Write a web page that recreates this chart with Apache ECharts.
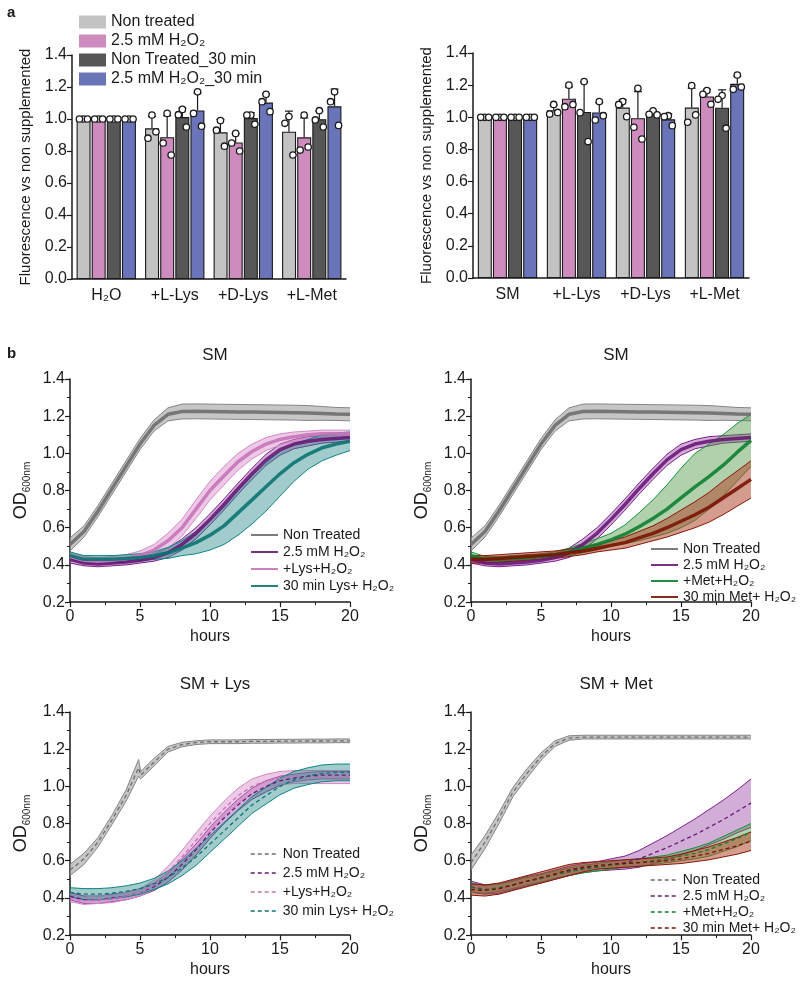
<!DOCTYPE html>
<html>
<head>
<meta charset="utf-8">
<script src="https://cdn.jsdelivr.net/npm/echarts@6/dist/echarts.min.js"></script>
<style>
  body { margin: 0; background: #fff; }
  .panel { position: absolute; }
</style>
</head>
<body>
<div id="barWater" class="panel" style="left:0;top:0;width:400px;height:320px"></div>
<div id="barSM" class="panel" style="left:400px;top:0;width:400px;height:320px"></div>
<div id="growthSmLys" class="panel" style="left:0;top:320px;width:400px;height:330px"></div>
<div id="growthSmMet" class="panel" style="left:400px;top:320px;width:400px;height:330px"></div>
<div id="growthLys" class="panel" style="left:0;top:650px;width:400px;height:333px"></div>
<div id="growthMet" class="panel" style="left:400px;top:650px;width:400px;height:333px"></div>
<script>
// ---------- panel a: fluorescence bars (three replicates per bar) ----------
const treatments = ['Non treated', '2.5 mM H₂O₂', 'Non Treated_30 min', '2.5 mM H₂O₂_30 min'];
const groupsWater = ['H₂O', '+L-Lys', '+D-Lys', '+L-Met'];
const groupsSM = ['SM', '+L-Lys', '+D-Lys', '+L-Met'];

const waterNonTreated = [[1, 1, 1], [1.025, 0.88, 0.92], [0.99, 0.93, 0.83], [1.015, 0.973, 0.775]];
const waterH2O2 = [[1, 1, 1], [1.035, 0.85, 0.775], [0.91, 0.85, 0.80], [1.025, 0.806, 0.825]];
const waterNonTreated30 = [[1, 1, 1], [1.06, 1.027, 0.95], [1.025, 1.025, 0.967], [1.052, 0.994, 0.95]];
const waterH2O2_30 = [[1, 1, 1], [1.17, 1.035, 0.955], [1.154, 1.108, 1.046], [1.17, 1.108, 0.96]];

const smNonTreated = [[1, 1, 1], [1.08, 1.02, 1.03], [1.098, 1.08, 1.004], [1.197, 0.969, 1.015]];
const smH2O2 = [[1, 1, 1], [1.2, 1.066, 1.08], [1.18, 0.938, 0.865], [1.166, 1.143, 1.081]];
const smNonTreated30 = [[1, 1, 1], [1.222, 1.029, 0.849], [1.04, 1.019, 1.015], [1.135, 1.112, 0.932]];
const smH2O2_30 = [[1, 1, 1], [1.098, 0.983, 1.01], [1.01, 1.004, 0.948], [1.263, 1.174, 1.188]];

// ---------- panel b: growth curves (mean and SD per hour) ----------
const hours = [0, 1, 2, 3, 4, 5, 6, 7, 8, 9, 10, 11, 12, 13, 14, 15, 16, 17, 18, 19, 20];

const smNonTreatedMean = [0.51, 0.58, 0.69, 0.81, 0.93, 1.05, 1.15, 1.21, 1.225, 1.226, 1.225, 1.224, 1.223, 1.222, 1.221, 1.22, 1.219, 1.217, 1.215, 1.212, 1.21];
const smNonTreatedSd = [0.035, 0.03, 0.03, 0.03, 0.03, 0.03, 0.03, 0.035, 0.04, 0.04, 0.04, 0.04, 0.04, 0.04, 0.04, 0.04, 0.04, 0.04, 0.037, 0.035, 0.035];
const smH2O2Mean = [0.43, 0.41, 0.405, 0.41, 0.415, 0.425, 0.44, 0.465, 0.51, 0.57, 0.645, 0.725, 0.81, 0.89, 0.965, 1.02, 1.05, 1.065, 1.075, 1.08, 1.085];
const smH2O2Sd = [0.02, 0.015, 0.015, 0.015, 0.015, 0.015, 0.02, 0.025, 0.03, 0.03, 0.03, 0.03, 0.03, 0.03, 0.03, 0.03, 0.025, 0.025, 0.02, 0.02, 0.02];
const smLysH2O2Mean = [0.445, 0.425, 0.42, 0.425, 0.435, 0.45, 0.48, 0.53, 0.6, 0.7, 0.8, 0.88, 0.955, 1.01, 1.05, 1.075, 1.09, 1.1, 1.105, 1.105, 1.105];
const smLysH2O2Sd = [0.02, 0.02, 0.02, 0.02, 0.02, 0.025, 0.03, 0.04, 0.045, 0.05, 0.05, 0.05, 0.045, 0.04, 0.035, 0.03, 0.025, 0.02, 0.02, 0.02, 0.02];
const smLys30Mean = [0.45, 0.43, 0.43, 0.43, 0.435, 0.44, 0.45, 0.465, 0.49, 0.52, 0.56, 0.61, 0.68, 0.75, 0.82, 0.89, 0.95, 0.995, 1.03, 1.05, 1.065];
const smLys30Sd = [0.02, 0.02, 0.02, 0.02, 0.02, 0.02, 0.02, 0.03, 0.04, 0.06, 0.08, 0.1, 0.12, 0.13, 0.13, 0.12, 0.1, 0.08, 0.07, 0.06, 0.05];
const smMetH2O2Mean = [0.45, 0.43, 0.43, 0.435, 0.44, 0.445, 0.455, 0.47, 0.49, 0.51, 0.535, 0.565, 0.605, 0.65, 0.7, 0.76, 0.82, 0.875, 0.935, 1.005, 1.07];
const smMetH2O2Sd = [0.02, 0.015, 0.015, 0.015, 0.015, 0.015, 0.015, 0.02, 0.025, 0.03, 0.035, 0.05, 0.075, 0.1, 0.13, 0.16, 0.18, 0.175, 0.165, 0.155, 0.14];
const smMet30Mean = [0.43, 0.43, 0.435, 0.44, 0.445, 0.45, 0.455, 0.465, 0.475, 0.49, 0.505, 0.52, 0.545, 0.57, 0.6, 0.635, 0.67, 0.71, 0.76, 0.81, 0.86];
const smMet30Sd = [0.02, 0.02, 0.02, 0.02, 0.02, 0.02, 0.02, 0.02, 0.02, 0.02, 0.025, 0.03, 0.035, 0.04, 0.05, 0.06, 0.07, 0.08, 0.09, 0.095, 0.1];

const lysNonTreatedHours = [0, 1, 2, 3, 4, 4.9, 5.05, 6, 7, 8, 9, 10, 11, 12, 13, 14, 15, 16, 17, 18, 19, 20];
const lysNonTreatedMean = [0.55, 0.61, 0.7, 0.82, 0.95, 1.1, 1.06, 1.13, 1.2, 1.225, 1.235, 1.24, 1.24, 1.24, 1.242, 1.242, 1.243, 1.243, 1.244, 1.244, 1.245, 1.245];
const lysNonTreatedSd = [0.03, 0.03, 0.025, 0.025, 0.03, 0.045, 0.02, 0.02, 0.015, 0.012, 0.01, 0.01, 0.01, 0.01, 0.01, 0.01, 0.01, 0.01, 0.01, 0.01, 0.01, 0.01];
const lysH2O2Mean = [0.41, 0.39, 0.39, 0.4, 0.41, 0.43, 0.46, 0.51, 0.58, 0.66, 0.75, 0.83, 0.9, 0.96, 1.0, 1.03, 1.045, 1.055, 1.06, 1.06, 1.06];
const lysH2O2Sd = [0.02, 0.02, 0.02, 0.02, 0.02, 0.02, 0.02, 0.025, 0.03, 0.03, 0.03, 0.03, 0.03, 0.03, 0.03, 0.025, 0.02, 0.02, 0.02, 0.02, 0.02];
const lysLysH2O2Mean = [0.4, 0.385, 0.39, 0.395, 0.41, 0.43, 0.47, 0.54, 0.62, 0.71, 0.8, 0.88, 0.95, 1.0, 1.03, 1.045, 1.05, 1.05, 1.05, 1.05, 1.05];
const lysLysH2O2Sd = [0.02, 0.02, 0.02, 0.02, 0.02, 0.02, 0.025, 0.03, 0.035, 0.04, 0.04, 0.04, 0.04, 0.04, 0.035, 0.035, 0.035, 0.035, 0.035, 0.035, 0.035];
const lysLys30Mean = [0.43, 0.42, 0.42, 0.425, 0.435, 0.45, 0.475, 0.51, 0.56, 0.62, 0.69, 0.76, 0.83, 0.9, 0.95, 1.0, 1.035, 1.055, 1.07, 1.075, 1.075];
const lysLys30Sd = [0.025, 0.03, 0.03, 0.03, 0.03, 0.03, 0.03, 0.035, 0.04, 0.045, 0.045, 0.045, 0.045, 0.045, 0.045, 0.045, 0.045, 0.045, 0.045, 0.045, 0.045];

const metNonTreatedMean = [0.59, 0.7, 0.83, 0.97, 1.07, 1.16, 1.23, 1.26, 1.265, 1.265, 1.265, 1.265, 1.265, 1.265, 1.265, 1.265, 1.265, 1.265, 1.265, 1.265, 1.265];
const metNonTreatedSd = [0.04, 0.035, 0.03, 0.025, 0.025, 0.02, 0.015, 0.012, 0.01, 0.01, 0.01, 0.01, 0.01, 0.01, 0.01, 0.01, 0.01, 0.01, 0.01, 0.01, 0.01];
const metH2O2Mean = [0.46, 0.445, 0.45, 0.47, 0.49, 0.505, 0.525, 0.545, 0.56, 0.57, 0.58, 0.59, 0.61, 0.64, 0.67, 0.705, 0.74, 0.78, 0.82, 0.865, 0.91];
const metH2O2Sd = [0.03, 0.025, 0.025, 0.025, 0.025, 0.025, 0.025, 0.025, 0.025, 0.025, 0.03, 0.035, 0.045, 0.055, 0.065, 0.075, 0.085, 0.095, 0.105, 0.115, 0.13];
const metMetH2O2Mean = [0.455, 0.445, 0.455, 0.47, 0.49, 0.505, 0.525, 0.54, 0.555, 0.565, 0.575, 0.585, 0.59, 0.6, 0.61, 0.625, 0.64, 0.66, 0.69, 0.72, 0.755];
const metMetH2O2Sd = [0.025, 0.02, 0.02, 0.02, 0.02, 0.02, 0.02, 0.02, 0.02, 0.02, 0.02, 0.02, 0.02, 0.02, 0.02, 0.025, 0.03, 0.035, 0.04, 0.045, 0.045];
const metMet30Mean = [0.445, 0.44, 0.45, 0.47, 0.49, 0.51, 0.53, 0.55, 0.565, 0.575, 0.58, 0.585, 0.59, 0.595, 0.6, 0.61, 0.625, 0.64, 0.66, 0.68, 0.705];
const metMet30Sd = [0.03, 0.03, 0.03, 0.03, 0.03, 0.03, 0.03, 0.03, 0.025, 0.02, 0.02, 0.02, 0.02, 0.02, 0.02, 0.025, 0.03, 0.035, 0.04, 0.045, 0.05];

// ---------- styles ----------
const FONT = 'Liberation Sans, Arial, Helvetica, sans-serif';
const INK = '#1a1a1a';
const barColors = ['#c3c3c3', '#cd8cbd', '#575757', '#6a74b9'];
const BAR_W = 14;
const BAR_PITCH = 15.2;
const JITTER = [0, -4, 4];

const GRAY = { edge: '#858585', fill: '#a0a0a0', line: '#6e6e6e', alpha: 0.6 };
const PURPLE = { edge: '#7d1f8c', fill: '#9b4aa8', line: '#6a1a78', alpha: 0.45 };
const PINK = { edge: '#d487c8', fill: '#d58ac8', line: '#c873b9', alpha: 0.45 };
const TEAL = { edge: '#0f8583', fill: '#2f8f8c', line: '#0c7472', alpha: 0.45 };
const GREEN = { edge: '#13923a', fill: '#4f9a45', line: '#0f7f31', alpha: 0.45 };
const RED = { edge: '#8a1709', fill: '#b04a30', line: '#7a1406', alpha: 0.55 };

function avg(a) { return a.reduce((s, v) => s + v, 0) / a.length; }
function sdev(a) {
  const m = avg(a);
  return Math.sqrt(a.reduce((s, v) => s + (v - m) * (v - m), 0) / (a.length - 1));
}

function barOption(groups, repsBySeries, gridLeft, gridTop, gridW, gridH, showLegend) {
  const series = repsBySeries.map((reps, s) => ({
    type: 'bar',
    name: treatments[s],
    data: reps.map(avg),
    barWidth: BAR_W,
    barGap: '8%',
    itemStyle: { color: barColors[s], borderColor: INK, borderWidth: 1.1 }
  }));
  const points = [];
  repsBySeries.forEach((reps, s) => reps.forEach((r, g) => {
    points.push([g, s, avg(r), sdev(r), r[0], r[1], r[2]]);
  }));
  series.push({
    type: 'custom',
    data: points,
    encode: { x: 0, y: 2 },
    z: 5,
    renderItem(params, api) {
      const g = api.value(0), s = api.value(1), m = api.value(2), sd = api.value(3);
      const base = api.coord([g, m]);
      const x = base[0] + (s - 1.5) * BAR_PITCH;
      const children = [];
      if (sd > 0.0001) {
        const yTop = api.coord([g, m + sd])[1];
        children.push({ type: 'line', shape: { x1: x, y1: base[1], x2: x, y2: yTop }, style: { stroke: INK, lineWidth: 1.2 } });
        children.push({ type: 'line', shape: { x1: x - 4, y1: yTop, x2: x + 4, y2: yTop }, style: { stroke: INK, lineWidth: 1.2 } });
      }
      for (let k = 0; k < 3; k++) {
        const y = api.coord([g, api.value(4 + k)])[1];
        children.push({ type: 'circle', shape: { cx: x + JITTER[k], cy: y, r: 3.2 }, style: { fill: '#fff', stroke: INK, lineWidth: 1.3 } });
      }
      return { type: 'group', children };
    }
  });
  const opt = {
    animation: false,
    textStyle: { fontFamily: FONT, color: INK },
    grid: { left: gridLeft, top: gridTop, width: gridW, height: gridH },
    xAxis: {
      type: 'category',
      data: groups,
      axisLine: { lineStyle: { color: INK, width: 1.5 } },
      axisTick: { show: false },
      axisLabel: { fontSize: 16, color: INK, margin: 9 }
    },
    yAxis: {
      type: 'value', min: 0, max: 1.4, interval: 0.2,
      axisLine: { show: true, lineStyle: { color: INK, width: 1.5 } },
      axisTick: { show: true, length: 5, lineStyle: { color: INK, width: 1.2 } },
      axisLabel: { fontSize: 16, color: INK, margin: 5, formatter: v => v.toFixed(1) },
      splitLine: { show: false },
      name: 'Fluorescence vs non supplemented',
      nameLocation: 'middle',
      nameGap: 34,
      nameTextStyle: { fontSize: 15, color: INK }
    },
    series
  };
  if (showLegend) {
    opt.legend = {
      orient: 'vertical', left: 74, top: 9,
      itemWidth: 27, itemHeight: 13, itemGap: 3,
      icon: 'rect',
      itemStyle: { borderWidth: 0 },
      data: treatments,
      textStyle: { fontSize: 16, color: INK }
    };
    opt.graphic = [{ type: 'text', left: 7, top: 5, style: { text: 'a', font: 'bold 15px ' + FONT, fill: INK } }];
  }
  return opt;
}

// shaded SD band (polygon between mean-sd and mean+sd) plus the mean line
function bandSeries(name, xs, mean, sd, col, dashed) {
  const lo = mean.map((m, i) => m - sd[i]);
  const hi = mean.map((m, i) => m + sd[i]);
  return [
    {
      type: 'custom',
      silent: true,
      clip: true,
      z: 2,
      data: xs.map((t, i) => [t, lo[i], hi[i]]),
      encode: { x: 0, y: [1, 2] },
      renderItem(params, api) {
        if (params.dataIndex !== 0) return null;
        const up = xs.map((t, i) => api.coord([t, hi[i]]));
        const dn = xs.map((t, i) => api.coord([t, lo[i]]));
        return {
          type: 'group',
          children: [
            { type: 'polygon', shape: { points: up.concat(dn.slice().reverse()) }, style: { fill: col.fill, opacity: col.alpha } },
            { type: 'polyline', shape: { points: up }, style: { stroke: col.edge, lineWidth: 1, fill: null } },
            { type: 'polyline', shape: { points: dn }, style: { stroke: col.edge, lineWidth: 1, fill: null } }
          ]
        };
      }
    },
    {
      type: 'line', name, symbol: 'none', z: 3,
      data: xs.map((t, i) => [t, mean[i]]),
      itemStyle: { color: col.line },
      lineStyle: dashed
        ? { color: col.line, width: 1.3, type: [4, 3] }
        : { color: col.line, width: 3.5, opacity: 0.9 }
    }
  ];
}

function growthOption(title, curves, dashed, legendTop, legendGap, gridLeft, gridTop, label) {
  let series = [];
  curves.forEach(c => { series = series.concat(bandSeries(c.name, c.x, c.mean, c.sd, c.col, dashed)); });
  const opt = {
    animation: false,
    textStyle: { fontFamily: FONT, color: INK },
    title: {
      text: title, left: gridLeft + 140, top: dashed ? 21 : 22, textAlign: 'center',
      textStyle: { fontSize: 17, fontWeight: 'normal', color: INK, fontFamily: FONT }
    },
    grid: { left: gridLeft, top: gridTop, width: 280, height: 226 },
    legend: {
      orient: 'vertical', left: 245, top: legendTop,
      itemWidth: 27, itemHeight: 14, itemGap: legendGap,
      data: curves.map(c => c.name),
      itemStyle: { opacity: 0 },
      lineStyle: { width: dashed ? 1.5 : 2 },
      textStyle: { fontSize: 14, color: INK }
    },
    xAxis: {
      type: 'value', min: 0, max: 20, interval: 5,
      axisLine: { onZero: false, lineStyle: { color: INK, width: 1.5 } },
      axisTick: { length: 5, lineStyle: { color: INK, width: 1.2 } },
      minorTick: { show: true, splitNumber: 2, length: 3, lineStyle: { color: INK, width: 1 } },
      axisLabel: { fontSize: 16, color: INK, margin: 6 },
      splitLine: { show: false },
      name: 'hours', nameLocation: 'middle', nameGap: 24,
      nameTextStyle: { fontSize: 16, color: INK }
    },
    yAxis: {
      type: 'value', min: 0.2, max: 1.4, interval: 0.2,
      axisLine: { show: true, onZero: false, lineStyle: { color: INK, width: 1.5 } },
      axisTick: { show: true, length: 5, lineStyle: { color: INK, width: 1.2 } },
      minorTick: { show: true, splitNumber: 2, length: 3, lineStyle: { color: INK, width: 1 } },
      axisLabel: { fontSize: 16, color: INK, margin: 5, formatter: v => v.toFixed(1) },
      splitLine: { show: false },
      name: '{a|OD}{b|600nm}',
      nameLocation: 'middle', nameGap: 32,
      nameTextStyle: {
        rich: {
          a: { fontSize: 18, lineHeight: 22, color: INK, fontFamily: FONT },
          b: { fontSize: 10, lineHeight: 4, verticalAlign: 'bottom', color: INK, fontFamily: FONT }
        }
      }
    },
    series
  };
  if (label) {
    opt.graphic = [{ type: 'text', left: 7, top: 26, style: { text: label, font: 'bold 15px ' + FONT, fill: INK } }];
  }
  return opt;
}

echarts.init(document.getElementById('barWater')).setOption(
  barOption(groupsWater, [waterNonTreated, waterH2O2, waterNonTreated30, waterH2O2_30], 72, 55, 274, 224, true));
echarts.init(document.getElementById('barSM')).setOption(
  barOption(groupsSM, [smNonTreated, smH2O2, smNonTreated30, smH2O2_30], 73, 53, 276, 225, false));

echarts.init(document.getElementById('growthSmLys')).setOption(growthOption('SM', [
  { name: 'Non Treated', x: hours, mean: smNonTreatedMean, sd: smNonTreatedSd, col: GRAY },
  { name: '2.5 mM H₂O₂', x: hours, mean: smH2O2Mean, sd: smH2O2Sd, col: PURPLE },
  { name: '+Lys+H₂O₂', x: hours, mean: smLysH2O2Mean, sd: smLysH2O2Sd, col: PINK },
  { name: '30 min Lys+ H₂O₂', x: hours, mean: smLys30Mean, sd: smLys30Sd, col: TEAL }
], false, 203, 3, 70, 59, 'b'));

echarts.init(document.getElementById('growthSmMet')).setOption(growthOption('SM', [
  { name: 'Non Treated', x: hours, mean: smNonTreatedMean, sd: smNonTreatedSd, col: GRAY },
  { name: '2.5 mM H₂O₂', x: hours, mean: smH2O2Mean, sd: smH2O2Sd, col: PURPLE },
  { name: '+Met+H₂O₂', x: hours, mean: smMetH2O2Mean, sd: smMetH2O2Sd, col: GREEN },
  { name: '30 min Met+ H₂O₂', x: hours, mean: smMet30Mean, sd: smMet30Sd, col: RED }
], false, 217, 2, 71, 59, null));

echarts.init(document.getElementById('growthLys')).setOption(growthOption('SM + Lys', [
  { name: 'Non Treated', x: lysNonTreatedHours, mean: lysNonTreatedMean, sd: lysNonTreatedSd, col: GRAY },
  { name: '2.5 mM H₂O₂', x: hours, mean: lysH2O2Mean, sd: lysH2O2Sd, col: PURPLE },
  { name: '+Lys+H₂O₂', x: hours, mean: lysLysH2O2Mean, sd: lysLysH2O2Sd, col: PINK },
  { name: '30 min Lys+ H₂O₂', x: hours, mean: lysLys30Mean, sd: lysLys30Sd, col: TEAL }
], true, 192, 5, 70, 62, null));

echarts.init(document.getElementById('growthMet')).setOption(growthOption('SM + Met', [
  { name: 'Non Treated', x: hours, mean: metNonTreatedMean, sd: metNonTreatedSd, col: GRAY },
  { name: '2.5 mM H₂O₂', x: hours, mean: metH2O2Mean, sd: metH2O2Sd, col: PURPLE },
  { name: '+Met+H₂O₂', x: hours, mean: metMetH2O2Mean, sd: metMetH2O2Sd, col: GREEN },
  { name: '30 min Met+ H₂O₂', x: hours, mean: metMet30Mean, sd: metMet30Sd, col: RED }
], true, 218, 2, 71, 62, null));
</script>
</body>
</html>
